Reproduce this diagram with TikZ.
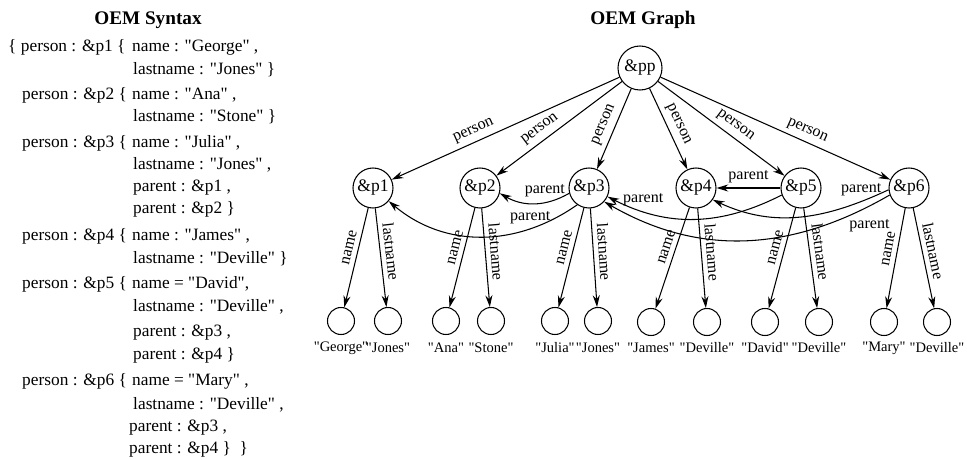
\documentclass[tikz,border=0pt]{standalone}
\usepackage{fontspec}
\setmainfont{Liberation Serif}[Ligatures=TeXOff]
\usetikzlibrary{arrows.meta,positioning}

\begin{document}
\begin{tikzpicture}[
    x=0.03cm, y=-0.03cm,
    object/.style={circle, draw, line width=0.9pt, minimum size=1.2cm, inner sep=0pt, font=\fontsize{15}{18}\selectfont},
    root/.style={object, minimum size=1.32cm},
    atomic/.style={circle, draw, line width=0.9pt, minimum size=0.81cm, inner sep=0pt},
    arrow/.style={-{Stealth[length=10pt, width=6pt]}, line width=0.9pt},
    edgelabel/.style={font=\fontsize{13.7}{16}\selectfont, inner sep=4pt},
    value/.style={font=\fontsize{12.4}{15}\selectfont},
    syntax/.style={anchor=base west, inner sep=0pt, font=\fontsize{14.8}{17}\selectfont},
    heading/.style={font=\fontsize{16.4}{19}\selectfont\bfseries}
]
\useasboundingbox (0,0) rectangle (967,460);

% OEM Syntax (left side)
\node[heading] (syntitle) at (148,20) {OEM Syntax};
\node[syntax] (h1) at (8,52) {\{ person : \&p1 \{};
\node[syntax] (s1) at (132,52) {name : "George" ,};
\node[syntax] (s2) at (133,75) {lastname : "Jones" \}};
\node[syntax] (h2) at (22,100) {person : \&p2 \{};
\node[syntax] (s3) at (132,100) {name : "Ana" ,};
\node[syntax] (s4) at (133,122) {lastname : "Stone" \}};
\node[syntax] (h3) at (22,148) {person : \&p3 \{};
\node[syntax] (s5) at (132,148) {name : "Julia" ,};
\node[syntax] (s6) at (133,170) {lastname : "Jones" ,};
\node[syntax] (s7) at (133,192) {parent : \&p1 ,};
\node[syntax] (s8) at (133,214) {parent : \&p2 \}};
\node[syntax] (h4) at (22,241) {person : \&p4 \{};
\node[syntax] (s9) at (132,241) {name : "James" ,};
\node[syntax] (s10) at (133,264) {lastname : "Deville" \}};
\node[syntax] (h5) at (22,289) {person : \&p5 \{};
\node[syntax] (s11) at (132,289) {name = "David",};
\node[syntax] (s12) at (133,312) {lastname : "Deville" ,};
\node[syntax] (s13) at (133,337) {parent : \&p3 ,};
\node[syntax] (s14) at (133,360) {parent : \&p4 \}};
\node[syntax] (h6) at (22,386) {person : \&p6 \{};
\node[syntax] (s15) at (132,386) {name = "Mary" ,};
\node[syntax] (s16) at (133,410) {lastname : "Deville" ,};
\node[syntax] (s17) at (129,432) {parent : \&p3 ,};
\node[syntax] (s18) at (129,454) {parent : \&p4 \}~~\}};

% OEM Graph (right side)
\node[heading] (graphtitle) at (643,20) {OEM Graph};
\node[root] (pp) at (640,68) {\&pp};
\node[object] (p1) at (373,188) {\&p1};
\node[object] (p2) at (480,188) {\&p2};
\node[object] (p3) at (589,188) {\&p3};
\node[object] (p4) at (696,188) {\&p4};
\node[object] (p5) at (801,188) {\&p5};
\node[object] (p6) at (909,188) {\&p6};

% atomic values
\node[atomic] (n1) at (341,321) {};
\node[atomic] (l1) at (388,321) {};
\node[atomic] (n2) at (446,321) {};
\node[atomic] (l2) at (491,321) {};
\node[atomic] (n3) at (555,321) {};
\node[atomic] (l3) at (598,321) {};
\node[atomic] (n4) at (651,322) {};
\node[atomic] (l4) at (707,322) {};
\node[atomic] (n5) at (765,322) {};
\node[atomic] (l5) at (819,322) {};
\node[atomic] (n6) at (884,322) {};
\node[atomic] (l6) at (937,322) {};

\node[value] (vn1) at (341,348) {"George"};
\node[value] (vl1) at (388,348) {"Jones"};
\node[value] (vn2) at (446,348) {"Ana"};
\node[value] (vl2) at (491,348) {"Stone"};
\node[value] (vn3) at (555,348) {"Julia"};
\node[value] (vl3) at (598,348) {"Jones"};
\node[value] (vn4) at (651,348) {"James"};
\node[value] (vl4) at (707,348) {"Deville"};
\node[value] (vn5) at (765,348) {"David"};
\node[value] (vl5) at (819,348) {"Deville"};
\node[value] (vn6) at (884,348) {"Mary"};
\node[value] (vl6) at (937,348) {"Deville"};

% person edges
\draw[arrow] (pp) -- node[edgelabel, pos=0.62, above, sloped] {person} (p1);
\draw[arrow] (pp) -- node[edgelabel, pos=0.6, above, sloped] {person} (p2);
\draw[arrow] (pp) -- node[edgelabel, pos=0.5, above, sloped] {person} (p3);
\draw[arrow] (pp) -- node[edgelabel, pos=0.5, above, sloped] {person} (p4);
\draw[arrow] (pp) -- node[edgelabel, pos=0.56, above, sloped] {person} (p5);
\draw[arrow] (pp) -- node[edgelabel, pos=0.62, above, sloped] {person} (p6);

% name / lastname edges
\foreach \i in {1,...,6} {
  \draw[arrow] (p\i) -- node[edgelabel, pos=0.42, above, sloped] {name} (n\i);
  \draw[arrow] (p\i) -- node[edgelabel, pos=0.45, above, sloped] {lastname} (l\i);
}

% parent edges
\draw[arrow] (p3.195) to[out=210, in=-30] node[edgelabel, pos=0.35, above] {parent} (p2.-15);
\draw[arrow] (p3.235) to[out=215, in=-40] node[edgelabel, pos=0.25, above] {parent} (p1.-40);
\draw[arrow] (p5) -- node[edgelabel, above] {parent} (p4);
\draw[arrow] (p5.200) to[out=207, in=-27] node[edgelabel, pos=0.8, above] {parent} (p3.-25);
\draw[arrow] (p6.185) to[out=205, in=-25] node[edgelabel, pos=0.15, above] {parent} (p4.-35);
\draw[arrow] (p6.200) to[out=210, in=-30] node[edgelabel, pos=0.07, below=7pt] {parent} (p3.-42);

\end{tikzpicture}
\end{document}
